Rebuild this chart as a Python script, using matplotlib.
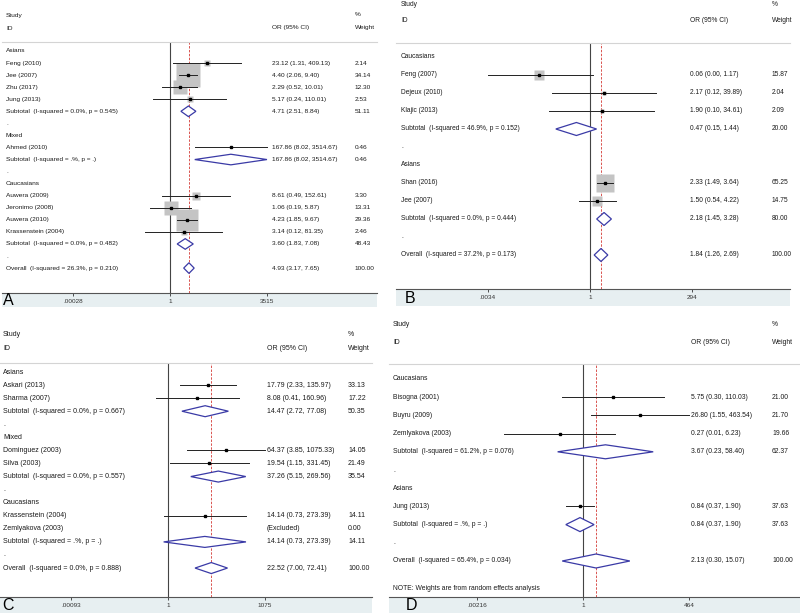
import numpy as np
import matplotlib
matplotlib.use("Agg")
import matplotlib.pyplot as plt
from matplotlib.patches import Rectangle
from matplotlib.transforms import blended_transform_factory

plt.rcParams['font.family'] = ['Liberation Sans', 'DejaVu Sans']

W, H = 800, 613
nan = np.nan

# ---------------- data ----------------
# kinds: g = group header, s = study, sub = subtotal, b = blank, o = overall, n = note
a_kind = ['g', 's', 's', 's', 's', 'sub', 'b', 'g', 's', 'sub', 'b',
          'g', 's', 's', 's', 's', 'sub', 'b', 'o']
a_label = ['Asians', 'Feng (2010)', 'Jee (2007)', 'Zhu (2017)', 'Jung (2013)',
           'Subtotal  (I-squared = 0.0%, p = 0.545)', '.',
           'Mixed', 'Ahmed (2010)', 'Subtotal  (I-squared = .%, p = .)', '.',
           'Caucasians', 'Auwera (2009)', 'Jeronimo (2008)', 'Auwera (2010)',
           'Krassenstein (2004)', 'Subtotal  (I-squared = 0.0%, p = 0.482)', '.',
           'Overall  (I-squared = 26.3%, p = 0.210)']
a_or = [nan, 23.12, 4.40, 2.29, 5.17, 4.71, nan, nan, 167.86, 167.86, nan,
        nan, 8.61, 1.06, 4.23, 3.14, 3.60, nan, 4.93]
a_lo = [nan, 1.31, 2.06, 0.52, 0.24, 2.51, nan, nan, 8.02, 8.02, nan,
        nan, 0.49, 0.19, 1.85, 0.12, 1.83, nan, 3.17]
a_hi = [nan, 409.13, 9.40, 10.01, 110.01, 8.84, nan, nan, 3514.67, 3514.67, nan,
        nan, 152.61, 5.87, 9.67, 81.35, 7.08, nan, 7.65]
a_wt = [nan, 2.14, 34.14, 12.30, 2.53, 51.11, nan, nan, 0.46, 0.46, nan,
        nan, 3.30, 13.31, 29.36, 2.46, 48.43, nan, 100.00]
a_ticks = [1 / 3515, 1, 3515]
a_ticklabels = ['.00028', '1', '3515']

b_kind = ['g', 's', 's', 's', 'sub', 'b', 'g', 's', 's', 'sub', 'b', 'o']
b_label = ['Caucasians', 'Feng (2007)', 'Dejeux (2010)', 'Klajic (2013)',
           'Subtotal  (I-squared = 46.9%, p = 0.152)', '.',
           'Asians', 'Shan (2016)', 'Jee (2007)',
           'Subtotal  (I-squared = 0.0%, p = 0.444)', '.',
           'Overall  (I-squared = 37.2%, p = 0.173)']
b_or = [nan, 0.06, 2.17, 1.90, 0.47, nan, nan, 2.33, 1.50, 2.18, nan, 1.84]
b_lo = [nan, 0.0034, 0.12, 0.10, 0.15, nan, nan, 1.49, 0.54, 1.45, nan, 1.26]
b_hi = [nan, 1.17, 39.89, 34.61, 1.44, nan, nan, 3.64, 4.22, 3.28, nan, 2.69]
b_wt = [nan, 15.87, 2.04, 2.09, 20.00, nan, nan, 65.25, 14.75, 80.00, nan, 100.00]
b_ticks = [1 / 294, 1, 294]
b_ticklabels = ['.0034', '1', '294']

c_kind = ['g', 's', 's', 'sub', 'b', 'g', 's', 's', 'sub', 'b',
          'g', 's', 's', 'sub', 'b', 'o']
c_label = ['Asians', 'Askari (2013)', 'Sharma (2007)',
           'Subtotal  (I-squared = 0.0%, p = 0.667)', '.',
           'Mixed', 'Dominguez (2003)', 'Silva (2003)',
           'Subtotal  (I-squared = 0.0%, p = 0.557)', '.',
           'Caucasians', 'Krassenstein (2004)', 'Zemlyakova (2003)',
           'Subtotal  (I-squared = .%, p = .)', '.',
           'Overall  (I-squared = 0.0%, p = 0.888)']
c_or = [nan, 17.79, 8.08, 14.47, nan, nan, 64.37, 19.54, 37.26, nan,
        nan, 14.14, nan, 14.14, nan, 22.52]
c_lo = [nan, 2.33, 0.41, 2.72, nan, nan, 3.85, 1.15, 5.15, nan,
        nan, 0.73, nan, 0.73, nan, 7.00]
c_hi = [nan, 135.97, 160.96, 77.08, nan, nan, 1075.33, 331.45, 269.56, nan,
        nan, 273.39, nan, 273.39, nan, 72.41]
c_wt = [nan, 33.13, 17.22, 50.35, nan, nan, 14.05, 21.49, 35.54, nan,
        nan, 14.11, 0.00, 14.11, nan, 100.00]
c_ticks = [1 / 1075, 1, 1075]
c_ticklabels = ['.00093', '1', '1075']

d_kind = ['g', 's', 's', 's', 'sub', 'b', 'g', 's', 'sub', 'b', 'o', 'n']
d_label = ['Caucasians', 'Bisogna (2001)', 'Buyru (2009)', 'Zemlyakova (2003)',
           'Subtotal  (I-squared = 61.2%, p = 0.076)', '.',
           'Asians', 'Jung (2013)', 'Subtotal  (I-squared = .%, p = .)', '.',
           'Overall  (I-squared = 65.4%, p = 0.034)',
           'NOTE: Weights are from random effects analysis']
d_or = [nan, 5.75, 26.80, 0.27, 3.67, nan, nan, 0.84, 0.84, nan, 2.13, nan]
d_lo = [nan, 0.30, 1.55, 0.01, 0.23, nan, nan, 0.37, 0.37, nan, 0.30, nan]
d_hi = [nan, 110.03, 463.54, 6.23, 58.40, nan, nan, 1.90, 1.90, nan, 15.07, nan]
d_wt = [nan, 21.00, 21.70, 19.66, 62.37, nan, nan, 37.63, 37.63, nan, 100.00, nan]
d_ticks = [1 / 464, 1, 464]
d_ticklabels = ['.00216', '1', '464']

# ---------------- layout (pixels) ----------------
layout = {
    'A': dict(left=2, right=377, top=42, bottom=293, band=307, row0=51, step=12.06,
              one=170, ppd=27.35, lab=6, orx=272, wtx=355, sy=15, iy=28,
              box=4.06, dh=5.3, fs=4.65, lx=3, ly=300),
    'B': dict(left=396, right=790, top=43, bottom=289, band=306, row0=57, step=18.0,
              one=590, ppd=41.5, lab=401, orx=690, wtx=772, sy=4, iy=21,
              box=2.35, dh=6.5, fs=4.8, lx=405, ly=299),
    'C': dict(left=0, right=372, top=363, bottom=597, band=613, row0=372, step=13.07,
              one=168, ppd=32.0, lab=3, orx=267, wtx=348, sy=335, iy=348,
              box=0, dh=5.5, fs=5.0, lx=2, ly=606),
    'D': dict(left=389, right=800, top=364, bottom=597, band=613, row0=379, step=18.2,
              one=583, ppd=39.75, lab=393, orx=691, wtx=772, sy=324, iy=342,
              box=0, dh=7.0, fs=4.85, lx=406, ly=606),
}

panels = {
    'A': (a_kind, a_label, a_or, a_lo, a_hi, a_wt, a_ticks, a_ticklabels),
    'B': (b_kind, b_label, b_or, b_lo, b_hi, b_wt, b_ticks, b_ticklabels),
    'C': (c_kind, c_label, c_or, c_lo, c_hi, c_wt, c_ticks, c_ticklabels),
    'D': (d_kind, d_label, d_or, d_lo, d_hi, d_wt, d_ticks, d_ticklabels),
}

txt = '#1a1a1a'
dia = '#3a3aa6'
boxc = '#c4c4c4'
bandc = '#e7eff1'

fig = plt.figure(figsize=(W / 100, H / 100), dpi=100)


def forest(name):
    kind, label, est, lo, hi, wt, ticks, ticklabels = panels[name]
    L = layout[name]
    ax = fig.add_axes([L['left'] / W, 1 - L['bottom'] / H,
                       (L['right'] - L['left']) / W, (L['bottom'] - L['top']) / H])
    ax.set_facecolor('none')
    ax.set_xscale('log')
    ax.set_xlim(10 ** ((L['left'] - L['one']) / L['ppd']),
                10 ** ((L['right'] - L['one']) / L['ppd']))
    ax.set_ylim((L['bottom'] - L['row0']) / L['step'], (L['top'] - L['row0']) / L['step'])

    def fx(px):
        return (px - L['left']) / (L['right'] - L['left'])

    def ry(py):
        return (py - L['row0']) / L['step']

    tr = blended_transform_factory(ax.transAxes, ax.transData)
    fs = L['fs']

    # header
    ax.text(fx(L['lab']), ry(L['sy']), 'Study', transform=tr, fontsize=fs, va='center', color=txt)
    ax.text(fx(L['lab']), ry(L['iy']), 'ID', transform=tr, fontsize=fs, va='center', color=txt)
    ax.text(fx(L['orx']), ry(L['iy']), 'OR (95% CI)', transform=tr, fontsize=fs, va='center', color=txt)
    ax.text(fx(L['wtx']), ry(L['sy']), '%', transform=tr, fontsize=fs, va='center', color=txt)
    ax.text(fx(L['wtx']), ry(L['iy']), 'Weight', transform=tr, fontsize=fs, va='center', color=txt)

    ax.axvline(1, color='#444444', lw=0.8, zorder=1)
    overall = est[kind.index('o')]
    ax.axvline(overall, color='#d9534f', lw=0.7, ls=(0, (2.5, 1.5)), zorder=1)

    h = L['dh'] / L['step']
    for i, k in enumerate(kind):
        y = i + 0.5 if k == 'n' else i
        ax.text(fx(L['lab']), y, label[i], transform=tr, fontsize=fs, va='center', color=txt)
        if k not in ('s', 'sub', 'o'):
            continue
        if np.isnan(est[i]):
            ax.text(fx(L['orx']), y, '(Excluded)', transform=tr, fontsize=fs, va='center', color=txt)
        else:
            ax.text(fx(L['orx']), y, f'{est[i]:.2f} ({lo[i]:.2f}, {hi[i]:.2f})',
                    transform=tr, fontsize=fs, va='center', color=txt)
        ax.text(fx(L['wtx']), y, f'{wt[i]:.2f}', transform=tr, fontsize=fs, va='center', color=txt)
        if np.isnan(est[i]):
            continue
        if k == 's':
            if L['box'] > 0:
                ax.plot(est[i], y, 's', color=boxc, mec='none',
                        ms=L['box'] * np.sqrt(wt[i]) / 1.389, zorder=2)
            ax.plot([lo[i], hi[i]], [y, y], color='#222222', lw=0.7, zorder=3)
            ax.plot(est[i], y, 's', color='black', ms=1.8, zorder=4)
        else:
            ax.fill([lo[i], est[i], hi[i], est[i]], [y, y - h, y, y + h],
                    facecolor='white', edgecolor=dia, lw=0.9, zorder=3)

    for s in ('left', 'right'):
        ax.spines[s].set_visible(False)
    ax.spines['top'].set_color('#d4d4d4')
    ax.spines['top'].set_linewidth(0.8)
    ax.spines['bottom'].set_color('#555555')
    ax.spines['bottom'].set_linewidth(0.8)
    ax.set_yticks([])
    ax.set_xticks(ticks)
    ax.set_xticklabels(ticklabels)
    ax.xaxis.set_minor_locator(matplotlib.ticker.NullLocator())
    ax.tick_params(axis='x', direction='out', length=2.5, width=0.6, pad=1.5,
                   labelsize=4.6, colors='#333333')

    fig.add_artist(Rectangle((L['left'] / W, 1 - L['band'] / H),
                             (L['right'] - L['left']) / W, (L['band'] - L['bottom']) / H,
                             transform=fig.transFigure, facecolor=bandc, edgecolor='none',
                             zorder=-1))
    fig.text(L['lx'] / W, 1 - L['ly'] / H, name, fontsize=11.5, va='center', ha='left',
             color='black')


for p in ['A', 'B', 'C', 'D']:
    forest(p)

fig.savefig('out.png', dpi=100)
